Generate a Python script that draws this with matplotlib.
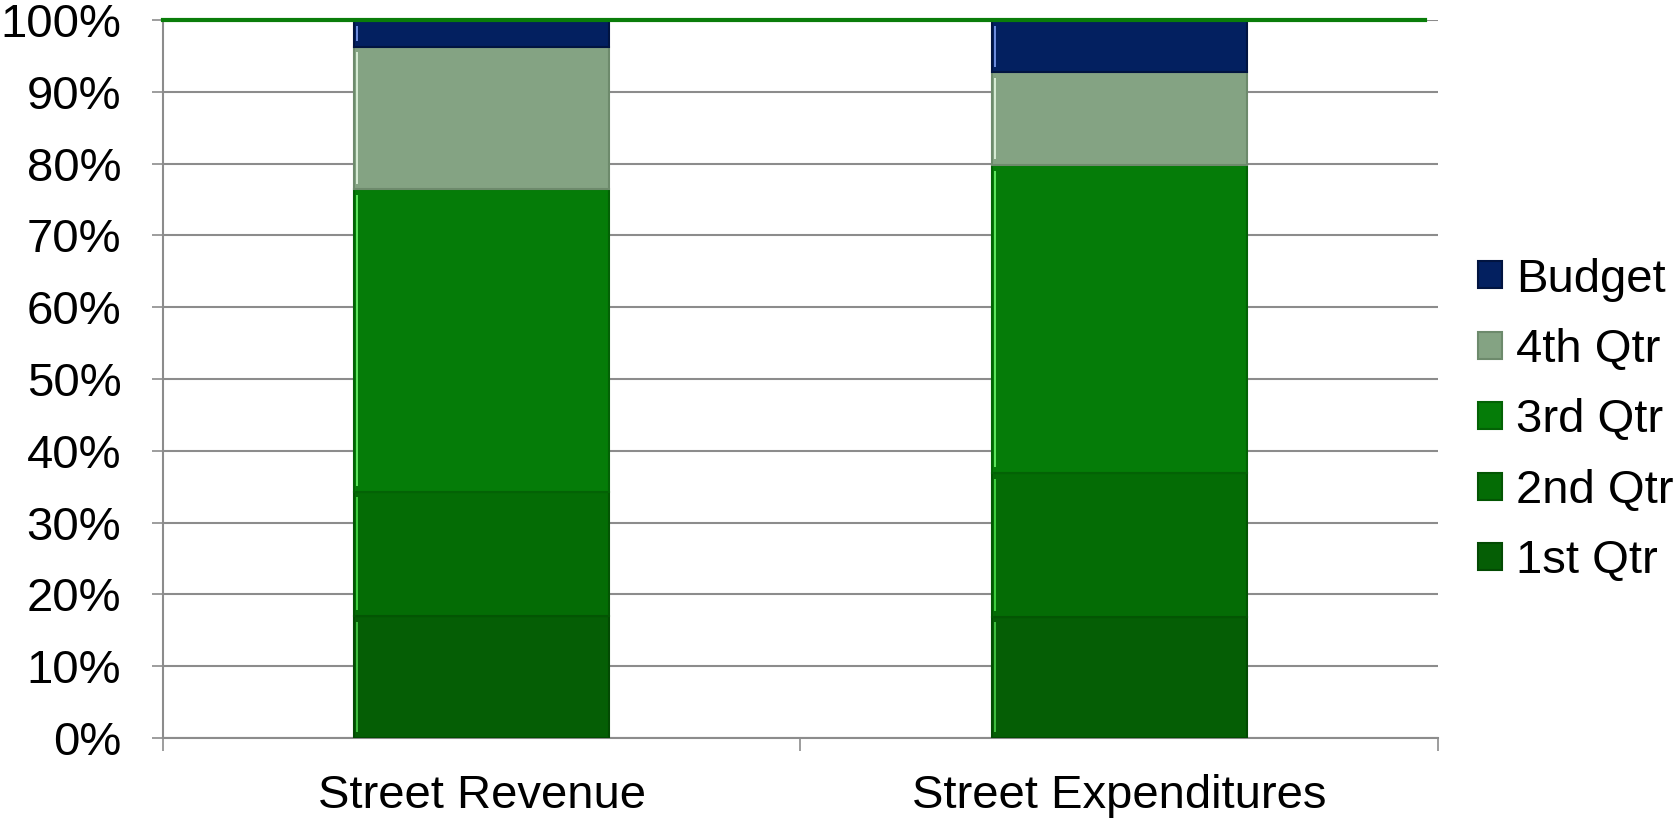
import numpy as np
import matplotlib.pyplot as plt
from matplotlib.patches import Patch

plt.rcParams['font.family'] = ['Liberation Sans', 'DejaVu Sans']

# Share of annual total by quarter (percent)
categories = ['Street Revenue', 'Street Expenditures']
series_names = ['1st Qtr', '2nd Qtr', '3rd Qtr', '4th Qtr', 'Budget']
qtr1 = [17.0, 16.9]
qtr2 = [17.3, 20.0]
qtr3 = [42.1, 42.9]
qtr4 = [19.9, 12.9]
budget = [3.7, 7.3]

colors = ['#055e05', '#046c05', '#057c08', '#84a383', '#032060']
edge_colors = ['#034a03', '#035503', '#036205', '#6d8a6c', '#011440']
shine = ['#3fbf3f', '#3fcf3f', '#5fe65f', '#d8ecd6', '#6f8fdf']

fig = plt.figure(figsize=(16.73, 8.18), dpi=100)
ax = fig.add_axes([0.0974, 0.0978, 0.762, 0.8778])

x = np.arange(len(categories))
bottom = np.zeros(len(categories))
for name, vals, c, ec, sc in zip(series_names, [qtr1, qtr2, qtr3, qtr4, budget],
                                 colors, edge_colors, shine):
    bars = ax.bar(x, vals, width=0.4, bottom=bottom, color=c, edgecolor=ec,
                  linewidth=1.5, zorder=3, label=name)
    # light bevel on the left side of each segment
    for r in bars:
        x0, y0, h = r.get_x(), r.get_y(), r.get_height()
        ax.plot([x0 + 0.005, x0 + 0.005], [y0 + 0.8, y0 + h - 0.8],
                color=sc, linewidth=1.4, zorder=4, solid_capstyle='butt')
    bottom += np.array(vals)

# green line along the 100% mark
ax.axhline(100, xmin=0, xmax=0.99, color='#0a7d0a', linewidth=3,
           zorder=5, clip_on=False)

ax.set_xlim(-0.5, 1.5)
ax.set_ylim(0, 100)
ax.set_yticks(np.arange(0, 101, 10))
ax.set_yticklabels([f'{v}%' for v in range(0, 101, 10)])
ax.yaxis.grid(True, color='#8c8c8c', linewidth=1.5, zorder=0)
ax.set_axisbelow(True)

ax.set_xticks([-0.5, 0.5, 1.5], minor=False)
ax.set_xticklabels([])
ax.set_xticks(x, minor=True)
ax.set_xticklabels(categories, minor=True)
ax.tick_params(axis='x', which='minor', length=0, pad=26, labelsize=34)
ax.tick_params(axis='x', which='major', length=9, width=1.2, color='#8c8c8c', direction='out')
ax.tick_params(axis='y', length=8, width=1.2, color='#8c8c8c', labelsize=34, pad=22)

for side in ['top', 'right']:
    ax.spines[side].set_visible(False)
for side in ['left', 'bottom']:
    ax.spines[side].set_color('#8c8c8c')
    ax.spines[side].set_linewidth(1.5)

handles = [Patch(facecolor=c, edgecolor=ec, linewidth=1.5)
           for c, ec in zip(colors, edge_colors)][::-1]
fig.legend(handles, series_names[::-1], loc='center left',
           bbox_to_anchor=(0.8834, 0.486), frameon=False, fontsize=34,
           handlelength=0.5, handleheight=0.5, handletextpad=0.3,
           labelspacing=0.56, borderaxespad=0, borderpad=0)

fig.savefig('out.png', dpi=100)
